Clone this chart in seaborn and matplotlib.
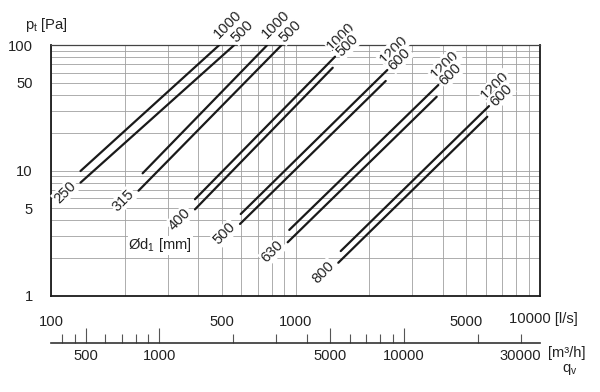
import numpy as np
import pandas as pd
import matplotlib
matplotlib.use('Agg')
import matplotlib.pyplot as plt
import seaborn as sns

# duct diameters and the two lengths per diameter
diameters = ['250', '315', '400', '500', '630', '800']
len_long = ['1000', '1000', '1000', '1200', '1200', '1200']
len_short = ['500', '500', '500', '600', '600', '600']

# long-length line: start/end flow [l/s] and pressure [Pa]
long_q0 = [132, 237, 388, 597, 943, 1531]
long_p0 = [9.9, 9.5, 5.9, 4.5, 3.36, 2.28]
long_q1 = [488, 767, 1451, 2374, 3838, 6185]
long_p1 = [100, 100, 80.7, 63.2, 48, 32.6]

# short-length line
short_q0 = [132, 228, 388, 593, 929, 1496]
short_p0 = [8.0, 6.9, 4.9, 3.75, 2.68, 1.84]
short_q1 = [562, 878, 1420, 2339, 3780, 6087]
short_p1 = [100, 100, 65.9, 51.7, 38.7, 26.8]

x_ticks = [100, 500, 1000, 5000, 10000]
x_labels = ['100', '500', '1000', '5000', '']
y_ticks = [1, 5, 10, 50, 100]
y_labels = ['1', '5', '10', '50', '100']

m3h_major = [500, 1000, 5000, 10000]
m3h_major_labels = ['500', '1000', '5000', '10000']
m3h_minor = [400, 450, 600, 700, 800, 900, 2000, 3000, 4000,
             6000, 7000, 8000, 9000, 20000, 30000]
m3h_minor_labels = ['', '', '', '', '', '', '', '', '',
                    '', '', '', '', '', '30000']

sns.set_style('white')
plt.rcParams['font.family'] = ['Liberation Sans', 'DejaVu Sans']
plt.rcParams['mathtext.fontset'] = 'custom'
plt.rcParams['mathtext.rm'] = 'Liberation Sans'
plt.rcParams['mathtext.it'] = 'Liberation Sans'
txt = '#222222'
fs = 10.6

rows = []
for i in range(len(diameters)):
    rows.append((f'{i}L', long_q0[i], long_p0[i]))
    rows.append((f'{i}L', long_q1[i], long_p1[i]))
    rows.append((f'{i}S', short_q0[i], short_p0[i]))
    rows.append((f'{i}S', short_q1[i], short_p1[i]))
df = pd.DataFrame(rows, columns=['seg', 'q', 'p'])

fig = plt.figure(figsize=(6, 3.92), dpi=100)
ax = fig.add_axes([0.085, 0.2449, 0.815, 0.6403])
ax.set_xscale('log')
ax.set_yscale('log')

sns.lineplot(data=df, x='q', y='p', units='seg', estimator=None,
             color='#1a1a1a', lw=1.6, ax=ax, legend=False, zorder=3)

ax.set_xlim(100, 10000)
ax.set_ylim(1, 100)
ax.set_xticks(x_ticks, labels=x_labels)
ax.set_yticks(y_ticks, labels=y_labels)
ax.xaxis.set_minor_formatter(matplotlib.ticker.NullFormatter())
ax.yaxis.set_minor_formatter(matplotlib.ticker.NullFormatter())
ax.grid(which='both', color='#a0a0a0', lw=0.6)
ax.set_xlabel('')
ax.set_ylabel('')
ax.tick_params(axis='x', which='major', length=8.5, width=0.7, color='#999999',
               pad=5, labelsize=fs, labelcolor=txt)
ax.tick_params(axis='y', which='major', length=6, width=0.9, color='#333333',
               pad=7, labelsize=fs, labelcolor=txt)
ax.tick_params(which='minor', length=0)
for s in ['left', 'bottom', 'right']:
    ax.spines[s].set_linewidth(1.3)
    ax.spines[s].set_color('#1a1a1a')
ax.spines['top'].set_linewidth(0.9)
ax.spines['top'].set_color('#444444')

# secondary flow axis in m3/h
sec = ax.secondary_xaxis(-0.1873, functions=(lambda q: q * 3.6, lambda m: m / 3.6))
sec.set_xticks(m3h_major, labels=m3h_major_labels)
sec.set_xticks(m3h_minor, labels=m3h_minor_labels, minor=True)
sec.tick_params(which='major', direction='in', length=10.5, width=0.8, color='#555555',
                pad=4.5, labelsize=fs, labelcolor=txt)
sec.tick_params(which='minor', direction='in', length=6.5, width=0.8, color='#555555',
                pad=4.5, labelsize=fs, labelcolor=txt)
sec.spines['bottom'].set_linewidth(1.2)
sec.spines['bottom'].set_color('#333333')

box = dict(facecolor='white', edgecolor='none', pad=0.8)
r2 = np.sqrt(0.5)


def off(a, b):
    # a along the 45 deg direction, b perpendicular (down-right), in pixels
    return (r2 * (a + b), r2 * (a - b))


for i, d in enumerate(diameters):
    ax.annotate(d, (short_q0[i], short_p0[i]), xytext=off(-5, 0),
                textcoords='offset pixels', ha='right', va='baseline',
                rotation=45, rotation_mode='anchor', fontsize=fs, color=txt,
                bbox=box, zorder=4)
    if long_p1[i] >= 100:
        ax.annotate(len_long[i], (long_q1[i], long_p1[i]), xytext=off(4, -5),
                    textcoords='offset pixels', ha='left', va='baseline',
                    rotation=45, rotation_mode='anchor', fontsize=fs, color=txt,
                    bbox=box, zorder=4, annotation_clip=False)
        ax.annotate(len_short[i], (short_q1[i], short_p1[i]), xytext=off(3.5, 0),
                    textcoords='offset pixels', ha='left', va='baseline',
                    rotation=45, rotation_mode='anchor', fontsize=fs, color=txt,
                    bbox=box, zorder=4, annotation_clip=False)
    else:
        ax.annotate(len_long[i], (long_q1[i], long_p1[i]), xytext=off(2, -6),
                    textcoords='offset pixels', ha='left', va='baseline',
                    rotation=45, rotation_mode='anchor', fontsize=fs, color=txt,
                    bbox=box, zorder=4)
        ax.annotate(len_short[i], (long_q1[i], long_p1[i]), xytext=off(4, 5),
                    textcoords='offset pixels', ha='left', va='baseline',
                    rotation=45, rotation_mode='anchor', fontsize=fs, color=txt,
                    bbox=box, zorder=4)

ax.text(207, 2.35, 'Ød$_1$ [mm]', ha='left', va='baseline', fontsize=fs,
        color=txt, bbox=dict(facecolor='white', edgecolor='none', pad=0.5), zorder=4)

ax.annotate('p$_\\mathrm{t}$ [Pa]', (0, 1), xycoords='axes fraction', xytext=(-26, 16.5),
            textcoords='offset pixels', ha='left', va='baseline', fontsize=fs, color=txt)
ax.annotate('10000 [l/s]', (1, 0), xycoords='axes fraction', xytext=(-31, -26.7),
            textcoords='offset pixels', ha='left', va='baseline', fontsize=fs, color=txt)
ax.annotate('[m³/h]', (1, 0), xycoords='axes fraction', xytext=(8, -61),
            textcoords='offset pixels', ha='left', va='baseline', fontsize=fs, color=txt)
ax.annotate('q$_\\mathrm{v}$', (1, 0), xycoords='axes fraction', xytext=(21.5, -76),
            textcoords='offset pixels', ha='left', va='baseline', fontsize=fs, color=txt)

fig.savefig('out.png', dpi=100)
